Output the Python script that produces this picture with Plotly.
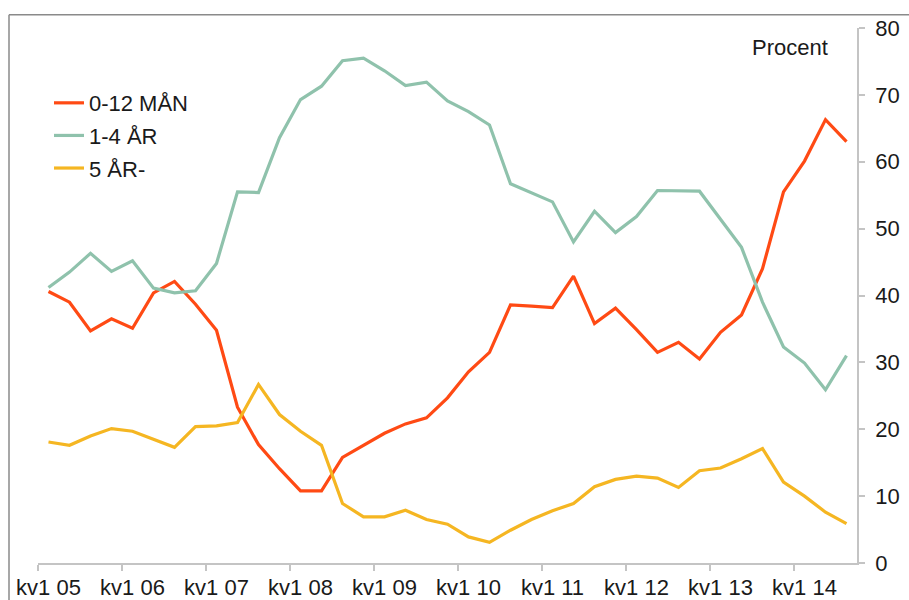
import plotly.graph_objects as go

# Quarters kv1 05 .. kv3 14
years = ["05", "06", "07", "08", "09", "10", "11", "12", "13", "14"]
quarters = [f"kv{q} {y}" for y in years for q in (1, 2, 3, 4)][:39]
tick_labels = [f"kv1 {y}" for y in years]

man_0_12 = [40.6, 39.0, 34.7, 36.5, 35.1, 40.4, 42.1, 38.7, 34.8, 23.3,
            17.7, 14.1, 10.8, 10.8, 15.8, 17.6, 19.4, 20.8, 21.7, 24.7,
            28.6, 31.5, 38.6, 38.4, 38.2, 42.9, 35.8, 38.1, 34.9, 31.5,
            33.0, 30.5, 34.5, 37.1, 44.0, 55.5, 60.1, 66.3, 63.0]
ar_1_4 = [41.2, 43.5, 46.3, 43.6, 45.2, 41.1, 40.4, 40.7, 44.8, 55.5,
          55.4, 63.6, 69.3, 71.3, 75.1, 75.5, 73.6, 71.4, 71.9, 69.1,
          67.5, 65.5, 56.7, 55.3, 54.0, 48.0, 52.6, 49.4, 51.8, 55.7,
          55.6, 55.6, 51.4, 47.2, 39.0, 32.3, 29.9, 25.9, 31.0]
ar_5 = [18.1, 17.6, 19.0, 20.1, 19.7, 18.5, 17.3, 20.4, 20.5, 21.0,
        26.7, 22.2, 19.7, 17.6, 8.9, 6.9, 6.9, 7.9, 6.5, 5.8,
        3.9, 3.1, 4.9, 6.5, 7.8, 8.9, 11.4, 12.5, 13.0, 12.7,
        11.3, 13.8, 14.2, 15.6, 17.1, 12.1, 10.0, 7.6, 5.9]

series_names = ["0-12 MÅN", "1-4 ÅR", "5 ÅR-"]
colors = ["#FF4A14", "#8FC2AC", "#F5B622"]

xpos = list(range(len(quarters)))
tickvals = [quarters.index(t) for t in tick_labels]

FONT = "Arial, Liberation Sans, sans-serif"
TXT = "#1a1a1a"
AXC = "#c4c4c4"

fig = go.Figure()
for i, (name, vals, col) in enumerate(zip(series_names, [man_0_12, ar_1_4, ar_5], colors)):
    fig.add_trace(go.Scatter(
        x=xpos, y=vals, mode="lines", name=name,
        line=dict(color=col, width=3.2), legendgroup=f"g{i}",
        customdata=quarters, hovertemplate="%{customdata}: %{y}<extra>" + name + "</extra>",
    ))

fig.update_layout(
    width=909, height=600,
    paper_bgcolor="white", plot_bgcolor="white",
    margin=dict(l=38, r=52, t=28, b=37, autoexpand=False),
    font=dict(family=FONT, size=22, color=TXT),
    showlegend=True,
    legend=dict(x=0.0134, y=0.899, xanchor="left", yanchor="top",
                bgcolor="rgba(0,0,0,0)", font=dict(size=22, color=TXT),
                tracegroupgap=1, itemwidth=30),
    xaxis=dict(
        range=[-0.5, len(quarters) - 0.5], automargin=False,
        tickmode="array", tickvals=tickvals, ticktext=tick_labels,
        ticks="", showgrid=False, zeroline=False,
        showline=True, linecolor=AXC, linewidth=1.5,
        tickfont=dict(size=22, color=TXT), ticklabelstandoff=4,
        minor=dict(tickmode="array", tickvals=[v - 0.5 for v in tickvals],
                   ticks="outside", ticklen=6, tickcolor=AXC, tickwidth=1.5,
                   showgrid=False),
    ),
    yaxis=dict(
        range=[0, 80], side="right", tickmode="array", automargin=False,
        tickvals=[0, 10, 20, 30, 40, 50, 60, 70, 80],
        ticks="outside", ticklen=6, tickcolor=AXC, tickwidth=1.5,
        showline=True, linecolor=AXC, linewidth=1.5,
        showgrid=False, zeroline=False,
        tickfont=dict(size=22, color=TXT), ticklabelstandoff=6,
    ),
    shapes=[
        dict(type="line", xref="paper", yref="paper",
             x0=-0.0354, x1=1.2, y0=1.0249, y1=1.0249,
             line=dict(color="#8a8a8a", width=1.5)),
        dict(type="line", xref="paper", yref="paper",
             x0=-0.0354, x1=-0.0354, y0=1.0249, y1=-0.2,
             line=dict(color="#8a8a8a", width=1.5)),
    ],
    annotations=[
        dict(text="Procent", xref="paper", yref="paper",
             x=0.967, y=0.964, xanchor="right", yanchor="middle",
             showarrow=False, font=dict(size=22, color=TXT)),
    ],
)

page_css = ("var s='margin:0;padding:0;overflow:hidden;width:909px;height:600px';"
            "document.documentElement.style.cssText=s;document.body.style.cssText=s;")

fig.write_html(
    "out.html",
    config={"displayModeBar": False},
    post_script=page_css,
)
